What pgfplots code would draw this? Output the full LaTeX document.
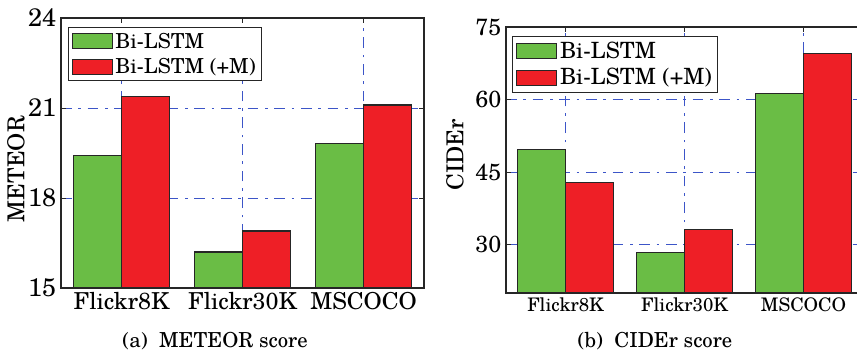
\documentclass[border=0pt]{standalone}
\usepackage{fontspec}
\setmainfont{TeX Gyre Schola}
\usepackage{pgfplots}
\pgfplotsset{compat=1.18}
\definecolor{barg}{RGB}{106,189,69}
\definecolor{barr}{RGB}{238,31,38}
\definecolor{gridb}{RGB}{60,85,200}
\pgfplotsset{
 mybar/.style={
  scale only axis,
  ybar=0pt, bar width=36pt,
  xmin=-0.5, xmax=2.5,
  xtick={0,1,2},
  xticklabels={Flickr8K,Flickr30K,MSCOCO},
  grid=major,
  major grid style={gridb, line width=0.75pt, dash pattern=on 8pt off 5pt on 2pt off 5pt},
  axis line style={line width=0.9pt, black!85},
  tick style={black!85, line width=0.6pt},
  major tick length=4pt,
  tick align=inside,
  /pgf/number format/assume math mode=true,
  legend cell align=left,
  legend style={draw=black!85, line width=0.8pt, inner xsep=2.5pt, inner ysep=2pt,
    font=\fontsize{15.5}{18}\selectfont, row sep=2pt},
  legend image code/.code={\draw[#1, line width=0.8pt] (0pt,-5.6pt) rectangle (30pt,5.6pt);},
  every axis plot/.append style={draw=black!85, line width=0.8pt},
 }
}
\begin{document}
\begin{tikzpicture}
\begin{axis}[mybar,
  at={(45.75pt,50.25pt)}, anchor=south west,
  width=272.25pt, height=202.5pt,
  ymin=15, ymax=24, ytick={15,18,21,24},
  yticklabel style={font=\fontsize{19}{19}\selectfont},
  xticklabel style={font=\fontsize{17.5}{17.5}\selectfont},
  ylabel={METEOR},
  every axis y label/.style={at={(axis description cs:-0.124,0.44)}, rotate=90, anchor=center, font=\fontsize{17.5}{17.5}\selectfont},
  legend style={at={(0.019,0.967)}, anchor=north west},
]
\addplot[fill=barg] coordinates {(0,19.41) (1,16.2) (2,19.81)};
\addplot[fill=barr] coordinates {(0,21.39) (1,16.9) (2,21.1)};
\legend{Bi-LSTM, Bi-LSTM (+M)}
\end{axis}
\begin{axis}[mybar,
  at={(379.5pt,46.5pt)}, anchor=south west,
  width=267.75pt, height=199.5pt,
  ymin=20, ymax=75, ytick={30,45,60,75},
  yticklabel style={font=\fontsize{17.5}{17.5}\selectfont},
  xticklabel style={font=\fontsize{14}{14}\selectfont},
  ylabel={CIDEr},
  every axis y label/.style={at={(axis description cs:-0.143,0.52)}, rotate=90, anchor=center, font=\fontsize{17.5}{17.5}\selectfont},
  legend style={at={(0.018,0.966)}, anchor=north west, font=\fontsize{16.8}{19}\selectfont},
]
\addplot[fill=barg] coordinates {(0,49.75) (1,28.3) (2,61.3)};
\addplot[fill=barr] coordinates {(0,42.8) (1,33.2) (2,69.5)};
\legend{Bi-LSTM, Bi-LSTM (+M)}
\end{axis}
\node[font=\fontsize{15.5}{15.5}\selectfont] at (161.25pt,10.5pt) {(a)\ \ METEOR score};
\node[font=\fontsize{15.5}{15.5}\selectfont] at (491.25pt,10.5pt) {(b)\ \ CIDEr score};
\pgfresetboundingbox
\path (0pt,0pt) rectangle (642.75pt,266.25pt);
\end{tikzpicture}
\end{document}
